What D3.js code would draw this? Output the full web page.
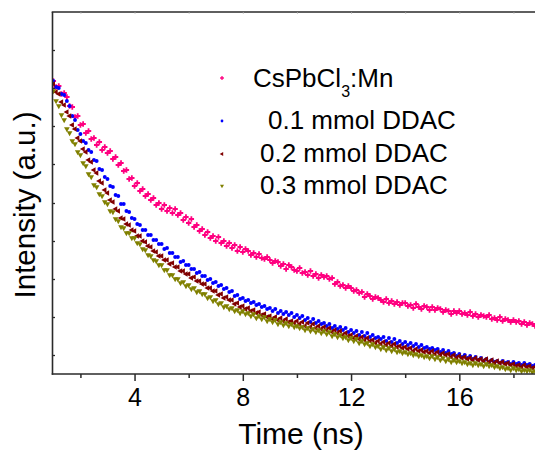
<!DOCTYPE html>
<html><head><meta charset="utf-8">
<script src="https://cdn.jsdelivr.net/npm/d3@7"></script>
<style>html,body{margin:0;padding:0;background:#fff;overflow:hidden}</style>
</head><body>
<svg id="c" width="535" height="452"></svg>
<script>
// time sampling (ns)
const tStart = 1.0, tStep = 0.1;
const xTicksMajor = [4, 8, 12, 16];
const xTicksMinor = [2, 6, 10, 14, 18];
const yTicks = [19, 57, 95, 133, 171, 210, 248, 286, 324];
const seriesNames = ["CsPbCl3:Mn", "0.1 mmol DDAC", "0.2 mmol DDAC", "0.3 mmol DDAC"];
const seriesColors = ["#FF0080", "#0000FF", "#800000", "#808000"];

const pinkVals = [293,287,288,280,281, 277,268,267,257,258, 249,250,241,243,235, 236,229,232,224,227, 221,223,215,217,209, 211,203,204,195,196, 188,191,183,185,178, 180,174,176,169,171, 165,169,163,166,161, 165,159,161,154,157, 151,155,147,149,143, 145,139,142,136,138, 133,137,131,133,128, 131,126,129,123,127,
122,125,123,119,121,117,120,116,115,117,
114,111,113,112,108,110,105,109,107,104,
103,106,101,102,99,103,98,100,96,99,
97,98,95,96,90,92,88,89,86,88,
86,83,84,81,82,77,80,78,75,77,
76,74,72,75,71,73,70,72,69,71,
71,68,69,66,70,67,65,68,67,64,
67,64,66,65,62,64,63,60,63,61,
63,60,61,59,62,58,60,57,59,58,
57,59,55,56,54,57,53,55,54,52,
54,52,53,50,52,49,51,50,48,50,
49];
const blueVals = [293,287,286,280,279, 273,268,258,254,244, 240,233,231,224,222, 214,213,205,204,197, 195,188,187,179,178, 170,170,163,162,156, 155,150,149,144,144, 139,139,134,134,130, 130,125,126,121,121, 117,117,112,113,109, 109,105,105,101,102, 98,98,94,95,91, 92,88,89,85,86, 82,83,78,79,75,
76,73,74,71,72,69,70,67,68,65,
66,63,65,61,63,60,62,59,61,57,
59,56,58,54,56,52,55,51,53,50,
51,48,50,46,48,45,47,44,46,42,
44,41,43,39,42,38,41,37,39,36,
37,35,37,33,36,32,35,31,33,30,
32,29,31,28,30,27,29,26,27,25,
26,24,25,22,24,21,23,20,21,18,
20,17,19,16,18,15,17,14,16,13,
15,12,14,12,13,11,13,11,12,10,
12,10,11,9,11,9,10,8,9,8,
8];
const redVals = [290,282,280,272,269, 262,258,249,245,236, 233,225,222,214,212, 204,201,193,191,184, 181,174,172,165,163, 156,155,150,149,144, 143,138,138,133,132, 128,127,123,122,118, 118,114,114,110,111, 107,107,103,103,100, 100,96,97,93,93, 90,90,86,86,83, 83,79,80,76,77, 74,74,70,71,67,
68,65,66,63,64,61,62,59,60,57,
58,55,57,54,56,53,55,52,53,51,
53,50,52,48,51,47,50,46,48,45,
47,44,46,42,44,41,43,39,41,38,
39,36,38,35,37,34,36,33,34,31,
33,30,32,29,31,28,30,27,28,26,
27,25,26,23,25,23,24,22,23,21,
23,20,22,19,21,19,20,17,19,16,
18,16,17,15,16,14,16,14,15,13,
15,12,14,11,13,11,12,10,11,9,
10,8,9,7,9,7,8,6,7,5,
6];
const oliveVals = [283,273,268,259,254, 245,241,233,230,222, 219,211,208,200,197, 189,187,180,178,172, 170,163,162,155,153, 147,146,141,141,136, 136,131,130,125,124, 119,118,114,113,109, 109,104,104,99,99, 95,95,91,92,88, 89,85,86,82,83, 80,80,76,77,73, 74,70,71,67,68, 65,66,63,64,61,
63,60,61,58,60,56,58,55,57,53,
55,52,54,50,52,49,51,48,50,47,
48,46,47,44,46,43,45,42,44,41,
43,40,42,38,40,37,39,36,37,34,
36,33,35,31,33,30,31,28,30,27,
28,25,27,24,26,23,25,22,23,21,
22,20,21,19,20,18,19,17,18,16,
18,15,17,14,16,13,15,12,14,12,
13,11,12,10,11,9,11,9,10,8,
10,8,9,7,8,6,7,5,6,4,
6,4,5,3,4,3,4,2,3,1,
2];

const allVals = [pinkVals, blueVals, redVals, oliveVals];
const font = "'Liberation Sans', Arial, Helvetica, sans-serif";

const svg = d3.select("#c");
const L = 52.5, T = 12, B = 374, R = 540.5;
const x = d3.scaleLinear().domain([0.95, 19]).range([52, 540.5]);
const y = d3.scaleLinear().domain([0, 362]).range([B, T]);

svg.append("defs").append("clipPath").attr("id","clip")
  .append("rect").attr("x", L).attr("y", T).attr("width", R - L).attr("height", B - T);

// symbols
const shapes = [
  {type: d3.symbolCross, size: 16, rot: 0},
  {type: d3.symbolCircle, size: 12, rot: 0},
  {type: d3.symbolTriangle, size: 14, rot: -90},
  {type: d3.symbolTriangle, size: 14, rot: 180}
];

const gData = svg.append("g").attr("clip-path", "url(#clip)");
allVals.forEach((vals, k) => {
  const sym = d3.symbol().type(shapes[k].type).size(shapes[k].size)();
  gData.append("g").selectAll("path").data(vals).join("path")
    .attr("d", sym)
    .attr("fill", seriesColors[k])
    .attr("transform", (d, i) => `translate(${x(tStart + i * tStep)},${y(d)}) rotate(${shapes[k].rot})`);
});

// axes frame
const axisColor = "#2a2a2a";
svg.append("line").attr("x1", L).attr("x2", L).attr("y1", T).attr("y2", B + 0.75)
  .attr("stroke", axisColor).attr("stroke-width", 1.6);
svg.append("line").attr("x1", L - 0.8).attr("x2", 535).attr("y1", B).attr("y2", B)
  .attr("stroke", axisColor).attr("stroke-width", 1.6);
svg.append("line").attr("x1", L - 0.8).attr("x2", 535).attr("y1", T).attr("y2", T)
  .attr("stroke", axisColor).attr("stroke-width", 1.4);

// bottom axis (major ticks + labels)
const xAxis = d3.axisBottom(x).tickValues(xTicksMajor).tickSize(7).tickPadding(5).tickFormat(d3.format("d"));
const gx = svg.append("g").attr("transform", `translate(0,${B})`).call(xAxis);
gx.select(".domain").remove();
gx.selectAll(".tick line").attr("stroke", axisColor).attr("stroke-width", 1.5);
gx.selectAll(".tick text").attr("font-family", font).attr("font-size", 25).attr("fill", "#000")
  .attr("dy", "0").attr("y", 32);
// bottom minor ticks
const xAxisMinor = d3.axisBottom(x).tickValues(xTicksMinor).tickSize(4).tickFormat("");
const gxm = svg.append("g").attr("transform", `translate(0,${B})`).call(xAxisMinor);
gxm.select(".domain").remove();
gxm.selectAll(".tick line").attr("stroke", axisColor).attr("stroke-width", 1.5);
// top ticks (tiny, inward)
const xTop = d3.axisBottom(x).tickValues(xTicksMajor.concat(xTicksMinor)).tickSize(1.5).tickFormat("");
const gt = svg.append("g").attr("transform", `translate(0,${T})`).call(xTop);
gt.select(".domain").remove();
gt.selectAll(".tick line").attr("stroke", "#999").attr("stroke-width", 1);
// left ticks (inward)
const yAxis = d3.axisRight(y).tickValues(yTicks).tickSize(2.5).tickFormat("");
const gy = svg.append("g").attr("transform", `translate(${L},0)`).call(yAxis);
gy.select(".domain").remove();
gy.selectAll(".tick line").attr("stroke", axisColor).attr("stroke-width", 1.3);

// axis titles
svg.append("text").attr("x", 301).attr("y", 444).attr("text-anchor", "middle")
  .attr("font-family", font).attr("font-size", 30).attr("fill", "#000").text("Time (ns)");
svg.append("text").attr("transform", "translate(35,205) rotate(-90)").attr("text-anchor", "middle")
  .attr("font-family", font).attr("font-size", 29.5).attr("fill", "#000").text("Intensity (a.u.)");

// legend
const legMarkerX = 222;
const legMarkerY = [78, 121, 154, 186];
const legText = [
  {x: 253, y: 87},
  {x: 268, y: 128.5},
  {x: 260, y: 162},
  {x: 260, y: 194}
];
legMarkerY.forEach((yy, k) => {
  const sym = d3.symbol().type(shapes[k].type).size(shapes[k].size * 0.5)();
  svg.append("path").attr("d", sym).attr("fill", seriesColors[k])
    .attr("transform", `translate(${legMarkerX},${yy}) rotate(${shapes[k].rot})`);
});
// first label with subscript
const t0 = svg.append("text").attr("x", legText[0].x).attr("y", legText[0].y)
  .attr("font-family", font).attr("font-size", 26).attr("fill", "#000");
t0.append("tspan").text("CsPbCl");
t0.append("tspan").attr("font-size", 16).attr("dy", 9.5).text("3");
t0.append("tspan").attr("dy", -9.5).text(":Mn");
for (let k = 1; k < 4; k++) {
  svg.append("text").attr("x", legText[k].x).attr("y", legText[k].y)
    .attr("font-family", font).attr("font-size", 26).attr("fill", "#000").text(seriesNames[k]);
}
</script>
</body></html>
